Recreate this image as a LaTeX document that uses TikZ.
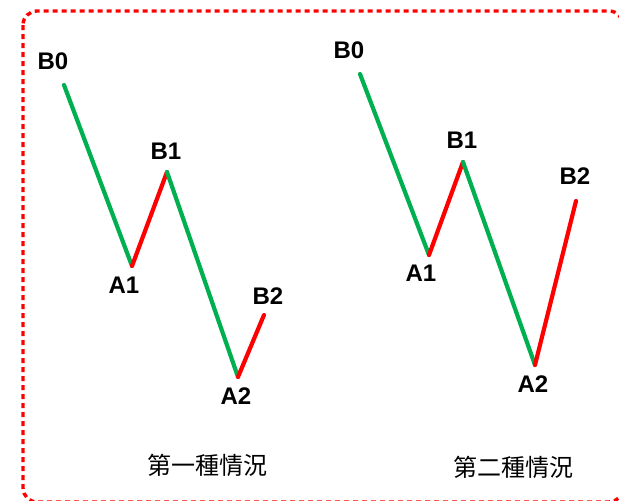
\documentclass[tikz,border=0pt]{standalone}
\usepackage{fontspec}
\setmainfont{Liberation Sans}
\newfontfamily\cjkfont{Noto Sans CJK TC}
\begin{document}
\begin{tikzpicture}[x=1pt,y=-1pt,line width=4.2pt,line cap=round,line join=round,
  upleg/.style={draw=red!100},
  downleg/.style={draw={rgb,255:red,0;green,176;blue,80}},
  ptlabel/.style={font=\fontsize{24}{24}\bfseries,inner sep=0pt},
  caption/.style={font=\fontsize{24}{24}\cjkfont,inner sep=0pt}]
\useasboundingbox (0,0) rectangle (619,501);
\draw[red,line width=3.4pt,line cap=butt,dash pattern=on 5pt off 4pt,rounded corners=14pt] (23,11) rectangle (623,502);
% first case
\coordinate (b0) at (64,85);
\coordinate (a1) at (132,266);
\coordinate (b1) at (167,172);
\coordinate (a2) at (238,377);
\coordinate (b2) at (264,315);
\draw[downleg] (b0)--(a1);
\draw[upleg] (a1)--(b1);
\draw[downleg] (b1)--(a2);
\draw[upleg] (a2)--(b2);
\node[ptlabel] (lb0) at (53,61) {B0};
\node[ptlabel] (la1) at (124,285) {A1};
\node[ptlabel] (lb1) at (166,151) {B1};
\node[ptlabel] (la2) at (236,396) {A2};
\node[ptlabel] (lb2) at (268,296) {B2};
\node[caption] (cap1) at (207,465) {第一種情況};
% second case
\coordinate (c0) at (360,74);
\coordinate (d1) at (429,255);
\coordinate (c1) at (463,162);
\coordinate (d2) at (535,365);
\coordinate (c2) at (576,201);
\draw[downleg] (c0)--(d1);
\draw[upleg] (d1)--(c1);
\draw[downleg] (c1)--(d2);
\draw[upleg] (d2)--(c2);
\node[ptlabel] (lc0) at (349,50) {B0};
\node[ptlabel] (ld1) at (421,273) {A1};
\node[ptlabel] (lc1) at (462,140) {B1};
\node[ptlabel] (ld2) at (533,384) {A2};
\node[ptlabel] (lc2) at (575,176) {B2};
\node[caption] (cap2) at (513,467) {第二種情況};
\end{tikzpicture}
\end{document}
